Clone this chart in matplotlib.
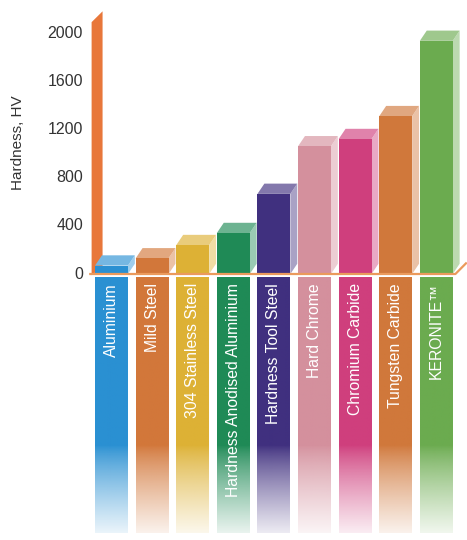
import numpy as np
import matplotlib
matplotlib.use("Agg")
from matplotlib import pyplot as plt
from matplotlib.colors import to_rgb

materials = ["Aluminium", "Mild Steel", "304 Stainless Steel",
             "Hardness Anodised Aluminium", "Hardness Tool Steel",
             "Hard Chrome", "Chromium Carbide", "Tungsten Carbide",
             "KERONITE\u2122"]
hardness = [70, 130, 240, 340, 665, 1060, 1120, 1310, 1935]
colors = ["#2a90d2", "#d2773a", "#ddb135", "#1f8a56", "#40307f",
          "#d4909d", "#cf3f7d", "#d0783b", "#6bab4f"]
yticks = [0, 400, 800, 1200, 1600, 2000]

plt.rcParams["font.family"] = ["Liberation Sans Narrow", "Liberation Sans", "DejaVu Sans"]

fig = plt.figure(figsize=(4.67, 5.40), dpi=100)
ax = fig.add_axes([0, 0, 1, 1])
ax.set_xlim(-111.5 / 40.6, (467 - 111.5) / 40.6)
ax.set_ylim(-2207.5, 2273.9)
ax.axis("off")


def tint(c, f):
    r = np.array(to_rgb(c))
    return tuple(r + (1 - r) * f)


w = 0.81      # bar width
dx = 0.17     # depth offset (x)
dy = 85       # depth offset (y)

# orange vertical axis post
ax.fill([-0.49, -0.49, -0.22, -0.22], [-10, 2090, 2180, 60],
        color="#e8773a", lw=0, zorder=2)

# floor line
ax.plot([-0.55, 8.47, 8.47 + 0.28], [0, 0, 95], color="#eb9a5c",
        lw=1.6, zorder=4, solid_capstyle="butt")

for i, (name, v, c) in enumerate(zip(materials, hardness, colors)):
    x0, x1 = i - w / 2, i + w / 2
    # side face
    ax.fill([x1, x1, x1 + dx, x1 + dx], [0, v, v + dy, dy],
            color=tint(c, 0.55), lw=0, zorder=3)
    # top face
    ax.fill([x0, x1, x1 + dx, x0 + dx], [v, v, v + dy, v + dy],
            color=tint(c, 0.35), lw=0, zorder=3)
    # front face
    ax.bar(i, v, width=w, bottom=0, color=c, lw=0, zorder=3)

    # label strip below with fading bottom
    n = 200
    f = np.linspace(0, 1, n)
    a = np.ones(n)
    start = 0.66
    m = f > start
    a[m] = 1 - 0.9 * ((f[m] - start) / (1 - start)) ** 0.8
    img = np.zeros((n, 1, 4))
    img[:, 0, :3] = to_rgb(c)
    img[:, 0, 3] = a
    ax.imshow(img, extent=(x0, x1, -2150, -30), origin="upper",
              aspect="auto", interpolation="bilinear", zorder=1)
    ax.text(i, -75, name, rotation=90, ha="center", va="top",
            color="white", fontsize=11.3, zorder=5)

for t in yticks:
    ax.text(-0.70, t, str(t), ha="right", va="center",
            fontsize=11.5, color="#333333")

ax.text(-2.30, (274 - 143) / 0.1205, "Hardness, HV", rotation=90,
        ha="center", va="center", fontsize=11, color="#333333")

fig.savefig("out.png", dpi=100)
